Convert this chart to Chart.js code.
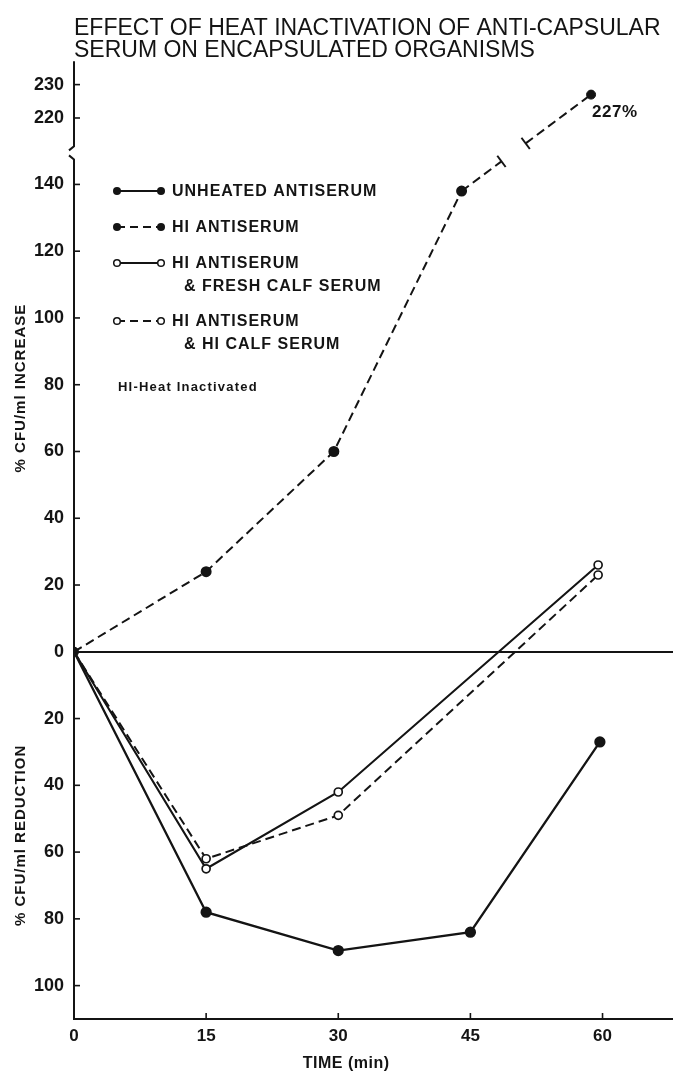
<!DOCTYPE html>
<html>
<head>
<meta charset="utf-8">
<script src="https://cdn.jsdelivr.net/npm/chart.js@4.4.1/dist/chart.umd.min.js"></script>
<style>
  html, body { margin: 0; padding: 0; background: #fff; }
  #wrap { width: 673px; height: 1076px; }
</style>
</head>
<body>
<div id="wrap"><canvas id="c" width="673" height="1076"></canvas></div>
<script>
// ---- data ----
const titleLines = ['EFFECT OF HEAT INACTIVATION OF ANTI-CAPSULAR', 'SERUM ON ENCAPSULATED ORGANISMS'];
const timeTicks = [0, 15, 30, 45, 60];
const lowerTicks = [-100, -80, -60, -40, -20, 0, 20, 40, 60, 80, 100, 120, 140];
const upperTicks = [220, 230];

const unheatedTimes = [0, 15, 30, 45, 59.7];
const unheatedPct   = [0, -78, -89.5, -84, -27];

const hiTimes = [0, 15, 29.5, 44];
const hiPct   = [0, 24, 60, 138];
const hiLastTime = 58.7;
const hiLastPct  = 227;

const freshTimes = [0, 15, 30, 59.5];
const freshPct   = [0, -65, -42, 26];

const hiCalfTimes = [0, 15, 30, 59.5];
const hiCalfPct   = [0, -62, -49, 23];

const seriesNames = [
  ['UNHEATED ANTISERUM'],
  ['HI ANTISERUM'],
  ['HI ANTISERUM', '& FRESH CALF SERUM'],
  ['HI ANTISERUM', '& HI CALF SERUM']
];
const noteText = 'HI-Heat Inactivated';
const lastLabel = hiLastPct + '%';
const yLabelUp = '% CFU/ml INCREASE';
const yLabelDown = '% CFU/ml REDUCTION';
const xLabel = 'TIME (min)';

// axis ranges (lower panel / upper panel of the broken axis)
const lowerMin = -110, lowerMax = 147.8;
const upperMin = 207.9, upperMax = 237, upperBreak = 211.5;

const FONT = "'Liberation Sans', Arial, sans-serif";
const INK = '#141414';

const pts = (xs, ys) => xs.map((x, i) => ({ x: x, y: ys[i] }));

const datasets = [
  { label: seriesNames[0].join(' '), data: pts(unheatedTimes, unheatedPct), yAxisID: 'yBot',
    borderColor: INK, borderWidth: 2.3, pointRadius: [0, 4.5, 4.5, 4.5, 4.5],
    pointBackgroundColor: INK, pointBorderColor: INK, dash: [] },
  { label: seriesNames[1].join(' '), data: pts(hiTimes, hiPct), yAxisID: 'yBot',
    borderColor: INK, borderWidth: 2, borderDash: [9, 5], pointRadius: [4, 4.5, 4.5, 4.5],
    pointBackgroundColor: INK, pointBorderColor: INK, dash: [8, 5] },
  { label: seriesNames[2].join(' '), data: pts(freshTimes, freshPct), yAxisID: 'yBot',
    borderColor: INK, borderWidth: 2.1, pointRadius: [0, 4, 4, 4],
    pointBackgroundColor: '#fff', pointBorderColor: INK, pointBorderWidth: 1.7, dash: [] },
  { label: seriesNames[3].join(' '), data: pts(hiCalfTimes, hiCalfPct), yAxisID: 'yBot',
    borderColor: INK, borderWidth: 2, borderDash: [9, 5], pointRadius: [0, 4, 4, 4],
    pointBackgroundColor: '#fff', pointBorderColor: INK, pointBorderWidth: 1.7, dash: [8, 5] },
  { label: 'hi-upper', data: [{ x: hiLastTime, y: hiLastPct }], yAxisID: 'yTop',
    borderColor: INK, pointRadius: 4.5, pointBackgroundColor: INK, pointBorderColor: INK, showLine: false }
];

// extra drawing: broken y axis, inward ticks, axis titles, legend, broken HI segment
const decor = {
  id: 'decor',
  afterDatasetsDraw(chart) {
    const ctx = chart.ctx;
    const xs = chart.scales.x, yb = chart.scales.yBot, yt = chart.scales.yTop;
    const ax = xs.left;
    ctx.save();
    ctx.strokeStyle = INK;
    ctx.fillStyle = INK;
    ctx.lineCap = 'butt';

    // HI antiserum: segment from the 45 min point to the point on the upper panel, with break marks
    const p1 = { x: xs.getPixelForValue(hiTimes[hiTimes.length - 1]), y: yb.getPixelForValue(hiPct[hiPct.length - 1]) };
    const p2 = { x: xs.getPixelForValue(hiLastTime), y: yt.getPixelForValue(hiLastPct) };
    const at = (yy) => { const t = (yy - p1.y) / (p2.y - p1.y); return { x: p1.x + t * (p2.x - p1.x), y: yy }; };
    const bLow = at(yb.top + 3);
    const bHigh = at(yt.getPixelForValue(upperBreak) - 3);
    ctx.lineWidth = 2;
    ctx.setLineDash([9, 5]);
    ctx.beginPath(); ctx.moveTo(p1.x, p1.y); ctx.lineTo(bLow.x, bLow.y); ctx.stroke();
    ctx.beginPath(); ctx.moveTo(bHigh.x, bHigh.y); ctx.lineTo(p2.x, p2.y); ctx.stroke();
    ctx.setLineDash([]);
    const dx = p2.x - p1.x, dy = p2.y - p1.y, len = Math.hypot(dx, dy);
    const nx = -dy / len, ny = dx / len;
    ctx.lineWidth = 2;
    [bLow, bHigh].forEach(b => {
      ctx.beginPath(); ctx.moveTo(b.x - nx * 7, b.y - ny * 7); ctx.lineTo(b.x + nx * 7, b.y + ny * 7); ctx.stroke();
    });

    // y axis line in two pieces with break slashes
    ctx.lineWidth = 2;
    const upBottom = yt.getPixelForValue(upperBreak);
    ctx.beginPath(); ctx.moveTo(ax, yt.top); ctx.lineTo(ax, upBottom); ctx.lineTo(ax - 5, upBottom + 4); ctx.stroke();
    const lowTop = yb.top;
    ctx.beginPath(); ctx.moveTo(ax - 5, lowTop - 3); ctx.lineTo(ax, lowTop + 1); ctx.lineTo(ax, yb.bottom); ctx.stroke();

    // inward tick marks
    ctx.lineWidth = 1.6;
    yb.ticks.forEach(t => { const y = yb.getPixelForValue(t.value); ctx.beginPath(); ctx.moveTo(ax, y); ctx.lineTo(ax + 6, y); ctx.stroke(); });
    yt.ticks.forEach(t => { const y = yt.getPixelForValue(t.value); ctx.beginPath(); ctx.moveTo(ax, y); ctx.lineTo(ax + 6, y); ctx.stroke(); });
    xs.ticks.forEach(t => { if (t.value === 0) return; const x = xs.getPixelForValue(t.value); ctx.beginPath(); ctx.moveTo(x, xs.top); ctx.lineTo(x, xs.top - 6); ctx.stroke(); });

    // value label of the last HI point
    ctx.font = 'bold 17px ' + FONT;
    ctx.textAlign = 'left'; ctx.textBaseline = 'middle';
    ctx.letterSpacing = '0.5px';
    ctx.fillText(lastLabel, p2.x + 1, p2.y + 18);

    // y axis titles
    ctx.font = 'bold 15px ' + FONT;
    ctx.textAlign = 'center'; ctx.textBaseline = 'middle';
    ctx.letterSpacing = '1px';
    [[yLabelUp, yb.getPixelForValue(79)], [yLabelDown, yb.getPixelForValue(-55)]].forEach(([txt, cy]) => {
      ctx.save(); ctx.translate(21, cy); ctx.rotate(-Math.PI / 2); ctx.fillText(txt, 0, 0); ctx.restore();
    });

    // x axis title
    ctx.font = 'bold 16px ' + FONT;
    ctx.letterSpacing = '0.5px';
    ctx.fillText(xLabel, xs.getPixelForValue(30.9), 1064);

    // legend
    const rows = [191, 227, 263, 321];
    ctx.textAlign = 'left';
    ctx.font = 'bold 16px ' + FONT;
    ctx.letterSpacing = '1px';
    seriesNames.forEach((lines, i) => {
      const ds = chart.data.datasets[i];
      const y = rows[i];
      ctx.lineWidth = 2;
      ctx.setLineDash(ds.dash);
      ctx.beginPath(); ctx.moveTo(117, y); ctx.lineTo(161, y); ctx.stroke();
      ctx.setLineDash([]);
      [117, 161].forEach(mx => {
        ctx.beginPath();
        if (ds.pointBackgroundColor === '#fff') {
          ctx.arc(mx, y, 3.3, 0, Math.PI * 2); ctx.fillStyle = '#fff'; ctx.fill(); ctx.lineWidth = 1.5; ctx.stroke();
        } else {
          ctx.arc(mx, y, 4, 0, Math.PI * 2); ctx.fillStyle = INK; ctx.fill();
        }
      });
      ctx.fillStyle = INK;
      ctx.fillText(lines[0], 172, y + 1);
      if (lines[1]) ctx.fillText(lines[1], 184, y + 24);
    });
    ctx.font = 'bold 13px ' + FONT;
    ctx.letterSpacing = '1.2px';
    ctx.fillText(noteText, 118, 387);
    ctx.restore();
  }
};

new Chart(document.getElementById('c'), {
  type: 'line',
  data: { datasets: datasets },
  options: {
    responsive: false,
    animation: false,
    devicePixelRatio: 1,
    layout: { padding: 0, autoPadding: false },
    elements: { line: { tension: 0 } },
    plugins: {
      legend: { display: false },
      tooltip: { enabled: false },
      title: {
        display: true, text: titleLines, align: 'start', fullSize: false, color: INK,
        font: { family: FONT, size: 23, weight: 'normal', lineHeight: 0.94 },
        padding: { top: 18, bottom: 0 }
      }
    },
    scales: {
      x: {
        type: 'linear', position: 'bottom', min: 0, max: 68,
        afterBuildTicks: s => { s.ticks = timeTicks.map(v => ({ value: v })); },
        afterFit: s => { s.height = 57; s.paddingRight = 0; s.paddingLeft = 0; },
        ticks: { color: INK, padding: 7, font: { family: FONT, size: 17, weight: 'bold' } },
        grid: { display: false, drawTicks: false },
        border: { display: true, color: INK, width: 2 }
      },
      yBot: {
        type: 'linear', position: 'left', stack: 'v', stackWeight: lowerMax - lowerMin,
        min: lowerMin, max: lowerMax,
        afterBuildTicks: s => { s.ticks = lowerTicks.map(v => ({ value: v })); },
        afterFit: s => { s.width = 74; },
        ticks: { color: INK, padding: 10, callback: v => Math.abs(v), font: { family: FONT, size: 18, weight: 'bold' } },
        grid: { drawTicks: false, lineWidth: 2, color: c => (c.tick && c.tick.value === 0) ? INK : 'rgba(0,0,0,0)' },
        border: { display: false }
      },
      yTop: {
        type: 'linear', position: 'left', stack: 'v', stackWeight: upperMax - upperMin,
        min: upperMin, max: upperMax,
        afterBuildTicks: s => { s.ticks = upperTicks.map(v => ({ value: v })); },
        afterFit: s => { s.width = 74; },
        ticks: { color: INK, padding: 10, font: { family: FONT, size: 18, weight: 'bold' } },
        grid: { display: false, drawTicks: false },
        border: { display: false }
      }
    }
  },
  plugins: [decor]
});
</script>
</body>
</html>
